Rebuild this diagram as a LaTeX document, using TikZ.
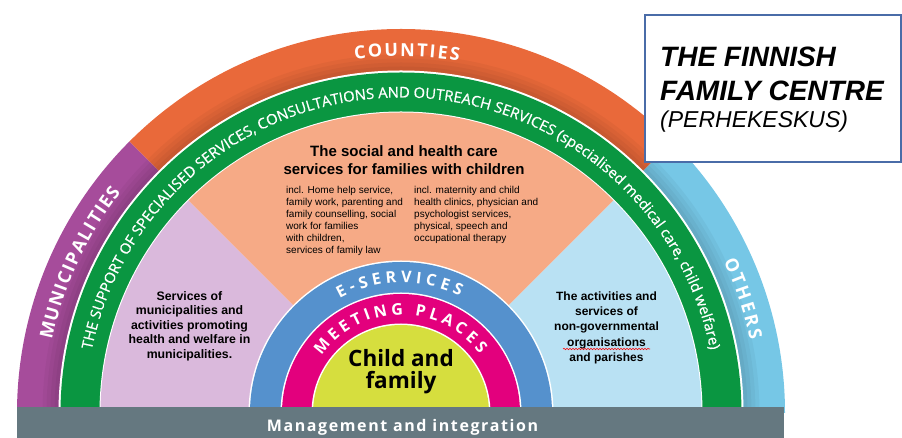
\documentclass[tikz,border=0pt]{standalone}
\usepackage{fontspec}
\setmainfont{Liberation Sans}
\newfontfamily\arcfont{Open Sans}
\newfontfamily\greenfont{Open Sans}[FakeBold=0.7]
\newfontfamily\mgmtfont{Open Sans}[LetterSpace=10]
\usetikzlibrary{decorations.text,decorations.pathmorphing}
\definecolor{orangeR}{HTML}{E9693A}
\definecolor{purpleR}{HTML}{A64C9B}
\definecolor{othersB}{HTML}{76C7E6}
\definecolor{greenR}{HTML}{0A9641}
\definecolor{peachS}{HTML}{F6AA86}
\definecolor{lilacS}{HTML}{DAB9DC}
\definecolor{skyS}{HTML}{B9E1F3}
\definecolor{blueR}{HTML}{5591CD}
\definecolor{pinkR}{HTML}{E3007D}
\definecolor{yellowR}{HTML}{D6DE3E}
\definecolor{grayBar}{HTML}{657880}
\definecolor{boxBlue}{HTML}{4A6CA8}
\tikzset{
  arctext/.style={decorate, decoration={text along path, text color=white, text align=center, text={#1}}},
  sectortext/.style={inner sep=0pt, align=center, anchor=north, text=black},
  smalltext/.style={inner sep=0pt, align=left, anchor=north west, text=black, font=\fontsize{10}{12}\selectfont},
  titleline/.style={inner sep=0pt, anchor=base west, text=black}
}
\begin{document}
\begin{tikzpicture}[x=1pt,y=1pt]
\useasboundingbox (0,0) rectangle (902,438);
\clip (0,0) rectangle (902,438);
\coordinate (C) at (401,25);
% outer ring sectors
\fill[purpleR] (C) -- ([shift={(180:384)}]C) arc[start angle=180,end angle=135,radius=384] -- cycle;
\fill[orangeR] (C) -- ([shift={(135:384)}]C) arc[start angle=135,end angle=45,radius=384] -- cycle;
\fill[othersB] (C) -- ([shift={(45:384)}]C) arc[start angle=45,end angle=0,radius=384] -- cycle;
% soft inner shadow of the outer ring
\foreach \w in {4,8,12,16}
  \fill[black, opacity=0.035, even odd rule] (C) circle[radius=342.5+\w] (C) circle[radius=342.5];
\fill[white] (C) circle[radius=342.5];
\fill[greenR] (C) circle[radius=340.5];
\fill[white] (C) circle[radius=301.5];
% inner sectors
\fill[lilacS] (C) -- ([shift={(180:300.5)}]C) arc[start angle=180,end angle=135,radius=300.5] -- cycle;
\fill[peachS] (C) -- ([shift={(135:300.5)}]C) arc[start angle=135,end angle=45,radius=300.5] -- cycle;
\fill[skyS] (C) -- ([shift={(45:300.5)}]C) arc[start angle=45,end angle=0,radius=300.5] -- cycle;
% inner rings
\fill[white] (C) circle[radius=152.5];
\fill[blueR] (C) circle[radius=151];
\fill[white] (C) circle[radius=120.5];
\fill[pinkR] (C) circle[radius=119];
\fill[white] (C) circle[radius=89.5];
\fill[yellowR] (C) circle[radius=88];
% bottom bar
\fill[grayBar] (17,0) rectangle (784,31);
% arc texts
\path[arctext={|\fontsize{18}{18}\selectfont\arcfont\bfseries\kern2pt|COUNTIES}]
  ([shift={(134.2:356.5)}]C) arc[start angle=134.2,end angle=44.2,radius=356.5];
\path[arctext={|\fontsize{18}{18}\selectfont\arcfont\bfseries\kern1.5pt|MUNICIPALITIES}]
  ([shift={(175.1:356.5)}]C) arc[start angle=175.1,end angle=135.1,radius=356.5];
\path[arctext={|\fontsize{18}{18}\selectfont\arcfont\bfseries\kern2.5pt|OTHERS}]
  ([shift={(37.2:356.5)}]C) arc[start angle=37.2,end angle=0.2,radius=356.5];
\path[arctext={|\fontsize{16}{16}\selectfont\arcfont\bfseries\kern4.3pt|E-SERVICES}]
  ([shift={(151.6:130.3)}]C) arc[start angle=151.6,end angle=31.6,radius=130.3];
\path[arctext={|\fontsize{16}{16}\selectfont\arcfont\bfseries\kern3.8pt|MEETING PLACES}]
  ([shift={(171.6:98.3)}]C) arc[start angle=171.6,end angle=11.6,radius=98.3];
\path[arctext={|\fontsize{14.8}{14.8}\selectfont\greenfont|THE SUPPORT OF SPECIALISED SERVICES, CONSULTATIONS AND OUTREACH SERVICES (specialised medical care, child welfare)}]
  ([shift={(179:315.5)}]C) arc[start angle=179,end angle=1,radius=315.5];
% centre
\node[name=childfam, sectortext, font=\fontsize{22.5}{22}\selectfont\arcfont\bfseries] at (401,88.5) {Child and\\family};
% sector texts
\node[name=socialtitle, sectortext, font=\fontsize{15}{18}\selectfont\bfseries] at (404,293) {The social and health care\\services for families with children};
\node[name=socialleft, smalltext] at (286,251.8) {incl. Home help service,\\family work, parenting and\\family counselling, social\\work for families\\with children,\\services of family law};
\node[name=socialright, smalltext] at (414,251.8) {incl. maternity and child\\health clinics, physician and\\psychologist services,\\physical, speech and\\occupational therapy};
\node[name=munitext, sectortext, font=\fontsize{12.3}{14.5}\selectfont\bfseries] at (189.5,147) {Services of\\municipalities and\\activities promoting\\health and welfare in\\municipalities.};
\node[name=ngotext, sectortext, font=\fontsize{12}{15.4}\selectfont\bfseries] at (606.5,146.7) {The activities and\\services of\\non-governmental\\organisations\\and parishes};
\draw[red, line width=0.6pt, decorate, decoration={snake, amplitude=0.7pt, segment length=3pt}] (563,89) -- (650,89);
% bar text
\node[name=mgmt, inner sep=0pt, anchor=base, text=white, font=\fontsize{16}{16}\selectfont\mgmtfont\bfseries] at (402.5,6.5) {Management and integration};
% title box
\node[name=titlebox, draw=boxBlue, line width=2.2pt, fill=white, minimum width=256, minimum height=147, anchor=north west, inner sep=0pt] at (644,424) {};
\node[name=title1, titleline, font=\fontsize{28}{28}\selectfont\bfseries\itshape] at (660,371) {THE FINNISH};
\node[name=title2, titleline, font=\fontsize{28}{28}\selectfont\bfseries\itshape] at (660,337) {FAMILY CENTRE};
\node[name=title3, titleline, font=\fontsize{23}{23}\selectfont\itshape] at (660,310) {(PERHEKESKUS)};
\end{tikzpicture}
\end{document}
